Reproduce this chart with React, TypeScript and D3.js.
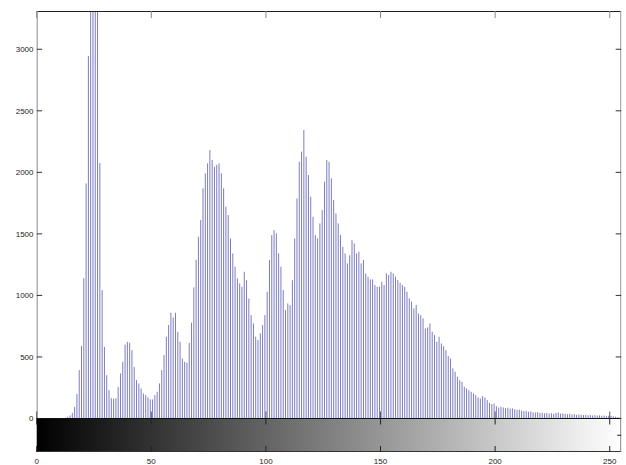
import React from "react";
import * as d3 from "d3";

// Histogram counts for grey levels 0..255
const counts: number[] = [
  0, 0, 0, 0, 0, 0, 0, 0, 0, 0,
  0, 2, 6, 14, 25, 46, 95, 200, 393, 590,
  1140, 1910, 2945, 3500, 3600, 3550, 3400, 2075, 1043, 582,
  352, 230, 165, 160, 165, 257, 366, 461, 600, 623,
  615, 556, 420, 312, 285, 244, 203, 190, 171, 155,
  155, 190, 217, 285, 393, 515, 664, 759, 859, 821,
  859, 705, 623, 488, 461, 453, 615, 778, 1065, 1290,
  1477, 1612, 1870, 1992, 2073, 2181, 2100, 2046, 2060, 2073,
  1992, 1870, 1721, 1653, 1463, 1341, 1233, 1138, 1097, 1070,
  1192, 1124, 975, 840, 772, 664, 637, 691, 759, 840,
  1030, 1287, 1490, 1531, 1504, 1341, 1233, 1043, 881, 935,
  921, 1124, 1463, 1788, 2086, 2168, 2344, 2127, 1978, 1802,
  1639, 1490, 1463, 1585, 1693, 1924, 2100, 2086, 1951, 1775,
  1666, 1585, 1490, 1395, 1341, 1260, 1327, 1449, 1422, 1341,
  1355, 1260, 1287, 1178, 1151, 1130, 1130, 1084, 1070, 1070,
  1111, 1084, 1179, 1165, 1192, 1179, 1152, 1125, 1103, 1084,
  1070, 1030, 976, 949, 894, 922, 854, 840, 813, 732,
  740, 772, 705, 678, 623, 664, 610, 588, 556, 507,
  488, 407, 380, 339, 312, 298, 258, 244, 230, 217,
  203, 190, 171, 163, 182, 171, 149, 127, 117, 122,
  100, 89, 95, 90, 85, 88, 80, 82, 75, 70,
  72, 65, 60, 62, 55, 58, 50, 48, 52, 45,
  47, 42, 45, 40, 43, 38, 45, 48, 40, 42,
  38, 35, 38, 33, 35, 30, 32, 30, 28, 30,
  27, 28, 25, 27, 24, 25, 22, 24, 20, 22,
  20, 18, 15, 12, 10, 8,
];

const xTicks: number[] = [0, 50, 100, 150, 200, 250];
const yTicks: number[] = [0, 500, 1000, 1500, 2000, 2500, 3000];
const xDomain: [number, number] = [0, 255];
const yDomain: [number, number] = [0, 3311];

const W = 626;
const H = 465;
const L = 36.7;
const R = 621.2;
const T = 11;
const Z = 418.5;
const CB = 452;
const FONT = "'Liberation Sans', Arial, sans-serif";

export default function App() {
  const x = d3.scaleLinear().domain(xDomain).range([L, R]);
  const y = d3.scaleLinear().domain(yDomain).range([Z, T]);
  const barColor = "#7c7cc2";
  const tk = 5.5;

  return (
    <svg
      width={W}
      height={H}
      style={{ position: "absolute", left: 0, top: 0, background: "#fff" }}
    >
      <defs>
        <clipPath id="plotClip">
          <rect x={L} y={T} width={R - L} height={Z - T} />
        </clipPath>
        <linearGradient id="greyRamp" x1="0" x2="1" y1="0" y2="0">
          <stop offset="0%" stopColor="#000" />
          <stop offset="100%" stopColor="#fff" />
        </linearGradient>
      </defs>
      <rect x={0} y={0} width={W} height={H} fill="#fff" />

      {/* stems */}
      <g clipPath="url(#plotClip)">
        {counts.map((c, i) =>
          c > 0 ? (
            <line
              key={i}
              x1={x(i + 0.55)}
              x2={x(i + 0.55)}
              y1={y(0)}
              y2={y(c)}
              stroke={barColor}
              strokeWidth={1}
            />
          ) : null
        )}
      </g>

      {/* axes frame */}
      <line x1={L} x2={R} y1={T + 0.5} y2={T + 0.5} stroke="#222" />
      <line x1={L + 0.5} x2={L + 0.5} y1={T} y2={Z} stroke="#8a8a8a" />
      <line x1={R - 0.5} x2={R - 0.5} y1={T} y2={Z} stroke="#9a9a9a" />

      {/* y ticks left & right */}
      {yTicks.map((v) => (
        <g key={"y" + v}>
          <line x1={L} x2={L + tk} y1={y(v)} y2={y(v)} stroke="#333" />
          <line x1={R - tk} x2={R} y1={y(v)} y2={y(v)} stroke="#333" />
          <text
            x={33.5}
            y={y(v)}
            dy="0.35em"
            textAnchor="end"
            fontFamily={FONT}
            fontSize={8}
            fill="#222"
          >
            {v}
          </text>
        </g>
      ))}

      {/* top & bottom x ticks of histogram axes */}
      {xTicks.map((v) => (
        <g key={"xt" + v}>
          <line x1={x(v)} x2={x(v)} y1={T} y2={T + 7} stroke="#888" />
          <line x1={x(v)} x2={x(v)} y1={Z} y2={Z - 7} stroke="#555" />
        </g>
      ))}

      {/* colour bar */}
      <rect x={L} y={Z} width={R - L} height={CB - Z} fill="url(#greyRamp)" />
      <line x1={L} x2={R} y1={Z} y2={Z} stroke="#111" />
      <line x1={L} x2={R} y1={CB - 0.5} y2={CB - 0.5} stroke="#333" />
      <line x1={R - 0.5} x2={R - 0.5} y1={Z} y2={CB} stroke="#888" />
      <line x1={R - 4} x2={R} y1={(Z + CB) / 2} y2={(Z + CB) / 2} stroke="#222" />
      {xTicks.map((v) => (
        <g key={"cb" + v}>
          <line x1={x(v)} x2={x(v)} y1={Z} y2={Z + 6} stroke="#222" />
          <line x1={x(v)} x2={x(v)} y1={CB} y2={CB - 6} stroke="#222" />
          <text
            x={x(v)}
            y={463.5}
            textAnchor="middle"
            fontFamily={FONT}
            fontSize={8}
            fill="#222"
          >
            {v}
          </text>
        </g>
      ))}
    </svg>
  );
}
